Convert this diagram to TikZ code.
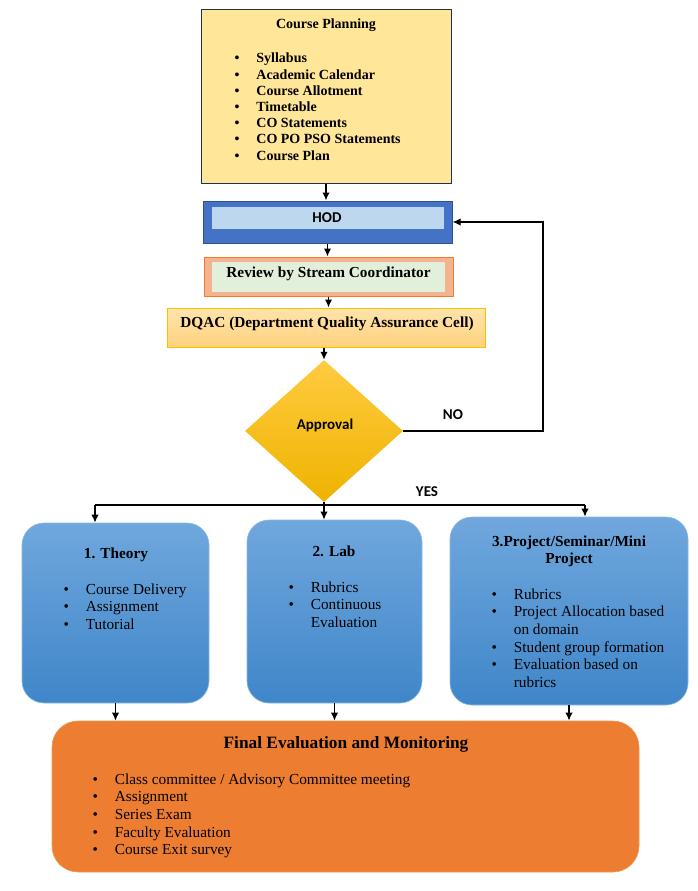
\documentclass[tikz,border=0pt]{standalone}
\usepackage{fontspec}
\setmainfont{Liberation Serif}
\newfontfamily\calibri{Carlito}
\usetikzlibrary{arrows,arrows.meta,shapes,positioning}

\definecolor{planfill}{HTML}{FFE699}
\definecolor{planline}{HTML}{22304F}
\definecolor{hodout}{HTML}{4472C4}
\definecolor{hodline}{HTML}{2F528F}
\definecolor{hodin}{HTML}{BDD7EE}
\definecolor{revout}{HTML}{F5B28E}
\definecolor{revline}{HTML}{ED7D31}
\definecolor{revin}{HTML}{E2EFDA}
\definecolor{dqactop}{HTML}{FFE4AC}
\definecolor{dqacbot}{HTML}{FFD27E}
\definecolor{dqacline}{HTML}{FFC000}
\definecolor{goldtop}{HTML}{FFCB40}
\definecolor{goldbot}{HTML}{EEB300}
\definecolor{bluetop}{HTML}{70A7DD}
\definecolor{bluebot}{HTML}{3F86C9}
\definecolor{finalfill}{HTML}{ED7D31}

\tikzstyle{planbox}=[draw=planline,fill=planfill,line width=1pt,minimum width=250pt,minimum height=173pt,inner sep=0pt]
\tikzstyle{hodbox}=[draw=hodline,fill=hodout,line width=1pt,minimum width=249pt,minimum height=42pt,inner sep=0pt]
\tikzstyle{hodinner}=[fill=hodin,minimum width=232pt,minimum height=22pt,inner sep=0pt]
\tikzstyle{revbox}=[draw=revline,fill=revout,line width=1pt,minimum width=249pt,minimum height=39pt,inner sep=0pt]
\tikzstyle{revinner}=[fill=revin,minimum width=233pt,minimum height=30pt,inner sep=0pt]
\tikzstyle{dqacbox}=[draw=dqacline,top color=dqactop,bottom color=dqacbot,line width=1pt,minimum width=318pt,minimum height=39pt,inner sep=0pt]
\tikzstyle{decision}=[diamond,top color=goldtop,bottom color=goldbot,minimum width=158pt,minimum height=142pt,inner sep=0pt]
\tikzstyle{stream}=[rounded corners=22pt,top color=bluetop,bottom color=bluebot,draw=bluetop!80!white,line width=0.6pt,inner sep=0pt]
\tikzstyle{finalbox}=[rounded corners=26pt,fill=finalfill,draw=finalfill!80!white,line width=0.6pt,minimum width=587pt,minimum height=151pt,inner sep=0pt]
\tikzstyle{edge}=[draw,line width=1.7pt,-{Latex[length=8pt,width=7.5pt]}]
\tikzstyle{line}=[draw,line width=1.7pt]
\tikzstyle{head}=[font=\fontsize{15.3}{17.6}\selectfont\bfseries,inner sep=0pt,anchor=base]
\tikzstyle{sanslabel}=[font=\calibri\fontsize{15}{18}\selectfont\bfseries,inner sep=0pt,anchor=base]
\tikzstyle{items}=[font=\fontsize{15.3}{17.7}\selectfont,inner sep=0pt,anchor=base west]

\begin{document}
\begin{tikzpicture}[x=1pt,y=-1pt]
    \useasboundingbox (0,0) rectangle (697,891);

    % top part
    \node[planbox] (plan) at (326,96.5) {};
    \node[head,font=\fontsize{14}{16.2}\selectfont\bfseries] (plantitle) at (326,29) {Course Planning};
    \node[items,font=\fontsize{14}{16.2}\selectfont\bfseries] (planlist) at (234.3,63)
        {\begin{tabular}[t]{@{}l@{\hspace{17pt}}l@{}}
        \textbullet & Syllabus\\
        \textbullet & Academic Calendar\\
        \textbullet & Course Allotment\\
        \textbullet & Timetable\\
        \textbullet & CO Statements\\
        \textbullet & CO PO PSO Statements\\
        \textbullet & Course Plan
        \end{tabular}};

    \node[hodbox] (hod) at (327.5,222) {};
    \node[hodinner] (hodin) at (328,218) {};
    \node[sanslabel] (hodtext) at (327,222.5) {HOD};

    \node[revbox] (review) at (328.5,276.5) {};
    \node[revinner] (revin) at (328.5,277) {};
    \node[head] (revtext) at (328.5,277) {Review by Stream Coordinator};

    \node[dqacbox] (dqac) at (326,327.5) {};
    \node[head] (dqactext) at (327,327) {DQAC (Department Quality Assurance Cell)};

    \node[decision] (appr) at (324,431) {};
    \node[sanslabel] (apprtext) at (325,429) {Approval};

    \node[sanslabel] (no) at (453,419) {NO};
    \node[sanslabel] (yes) at (427,496) {YES};

    % streams
    \node[stream,minimum width=187pt,minimum height=180pt] (theory) at (115.5,613) {};
    \node[head] (theorytitle) at (116,558) {1. Theory};
    \node[items] (theorylist) at (63.3,594)
        {\begin{tabular}[t]{@{}l@{\hspace{17pt}}l@{}}
        \textbullet & Course Delivery\\
        \textbullet & Assignment\\
        \textbullet & Tutorial
        \end{tabular}};

    \node[stream,minimum width=175pt,minimum height=183pt] (lab) at (334.5,611.5) {};
    \node[head] (labtitle) at (334,556) {2. Lab};
    \node[items] (lablist) at (288.3,592)
        {\begin{tabular}[t]{@{}l@{\hspace{17pt}}l@{}}
        \textbullet & Rubrics\\
        \textbullet & Continuous\\
                    & Evaluation
        \end{tabular}};

    \node[stream,minimum width=238pt,minimum height=188pt] (proj) at (569,611) {};
    \node[head] (projtitle) at (569,546)
        {\begin{tabular}[t]{@{}c@{}}3.Project/Seminar/Mini\\Project\end{tabular}};
    \node[items] (projlist) at (491.3,599)
        {\begin{tabular}[t]{@{}l@{\hspace{17pt}}l@{}}
        \textbullet & Rubrics\\
        \textbullet & Project Allocation based\\
                    & on domain\\
        \textbullet & Student group formation\\
        \textbullet & Evaluation based on\\
                    & rubrics
        \end{tabular}};

    \node[finalbox] (final) at (345.5,796.5) {};
    \node[head,font=\fontsize{17.3}{20}\selectfont\bfseries] (finaltitle) at (346,748) {Final Evaluation and Monitoring};
    \node[items] (finallist) at (92.3,784)
        {\begin{tabular}[t]{@{}l@{\hspace{17pt}}l@{}}
        \textbullet & Class committee / Advisory Committee meeting\\
        \textbullet & Assignment\\
        \textbullet & Series Exam\\
        \textbullet & Faculty Evaluation\\
        \textbullet & Course Exit survey
        \end{tabular}};

    % connectors
    \foreach \source/\dest in {plan/hod, hod/review, review/dqac}
        \path[edge] (\source.south) -- (\source.south |- \dest.north);
    \path[edge] (appr.north |- dqac.south) -- (appr.north);

    \coordinate (nocorner) at (543,431);
    \path[edge] (appr.east) -- (nocorner) |- (hod.east);

    \coordinate (yesL) at (95,505);
    \coordinate (yesR) at (585,505);
    \coordinate (yesM) at (appr.south |- yesL);
    \path[line] (appr.south) -- (yesM);
    \path[line] (yesL) -- (yesR);
    \foreach \c/\name in {yesL/theory, yesM/lab, yesR/proj}
        \path[edge] (\c) -- (\c |- \name.north);

    \foreach \name in {theory, lab, proj}
        \path[edge] (\name.south) -- (\name.south |- final.north);

\end{tikzpicture}
\end{document}
